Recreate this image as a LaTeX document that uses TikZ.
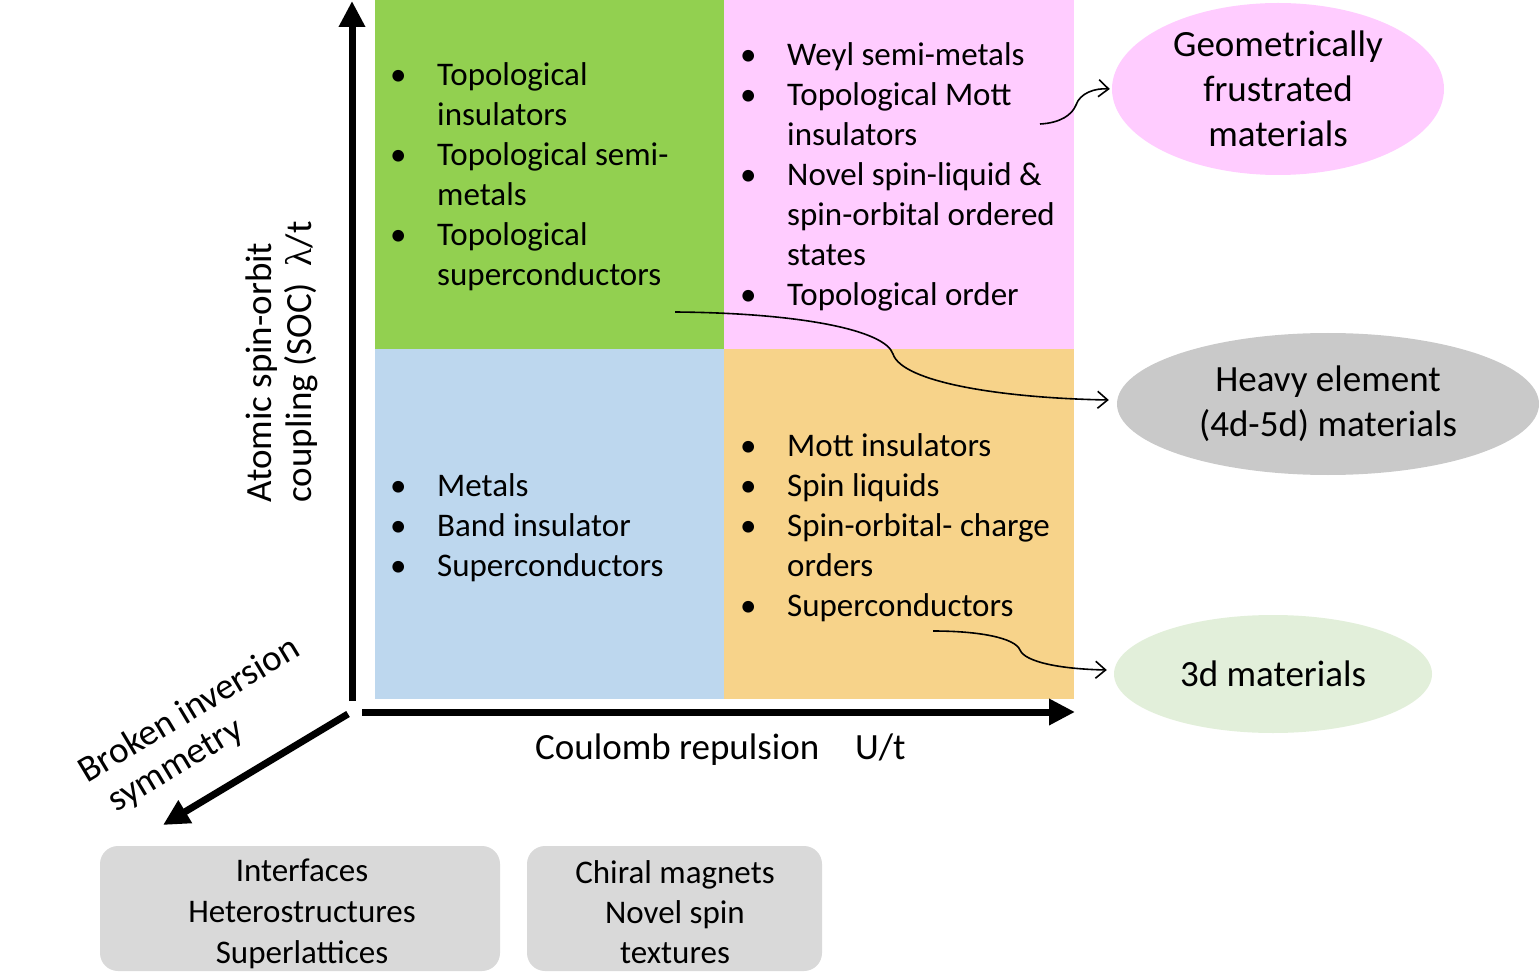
\documentclass[tikz,border=0pt]{standalone}
\usepackage{fontspec}
\setmainfont{Carlito}
\newfontfamily\lamfont{Liberation Serif}
\usetikzlibrary{arrows.meta,shapes.geometric}
\definecolor{qgreen}{RGB}{146,208,80}
\definecolor{qpink}{RGB}{255,204,255}
\definecolor{qblue}{RGB}{189,215,238}
\definecolor{qorange}{RGB}{247,211,138}
\definecolor{ellgray}{RGB}{201,201,201}
\definecolor{ellgreen}{RGB}{226,239,218}
\definecolor{boxgray}{RGB}{217,217,217}
\begin{document}
\begin{tikzpicture}[x=1pt,y=-1pt,
  listnode/.style={anchor=base west, inner sep=0, font=\fontsize{33}{40}\selectfont},
  ell/.style={ellipse, inner sep=0, align=center, font=\fontsize{37}{45}\selectfont},
  gbox/.style={fill=boxgray, rounded corners=18pt, inner sep=0},
  boxtext/.style={inner sep=0, align=center, font=\fontsize{33}{41}\selectfont},
  axis/.style={line width=7pt, -{Triangle[length=26pt,width=25pt]}},
  conn/.style={line width=1.6pt, -{Straight Barb[length=10pt,width=17pt]}},
  lab/.style={inner sep=0, font=\fontsize{37}{40}\selectfont}]
\useasboundingbox (0,0) rectangle (1539,973);
% quadrants
\fill[qgreen] (375,0) rectangle (724,349);
\fill[qpink] (724,0) rectangle (1074,349);
\fill[qblue] (375,349) rectangle (724,699);
\fill[qorange] (724,349) rectangle (1074,699);
% lists
\node[listnode] (gl) at (390,86) {\begin{tabular}[t]{@{}p{47pt}@{}l@{}}•&Topological\\&insulators\\•&Topological semi-\\&metals\\•&Topological\\&superconductors\end{tabular}};
\node[listnode] (pl) at (740,66) {\begin{tabular}[t]{@{}p{47pt}@{}l@{}}•&Weyl semi-metals\\•&Topological Mott\\&insulators\\•&Novel spin-liquid \&\\&spin-orbital ordered\\&states\\•&Topological order\end{tabular}};
\node[listnode] (bl) at (390,496) {\begin{tabular}[t]{@{}p{47pt}@{}l@{}}•&Metals\\•&Band insulator\\•&Superconductors\end{tabular}};
\node[listnode] (ol) at (740,456) {\begin{tabular}[t]{@{}p{47pt}@{}l@{}}•&Mott insulators\\•&Spin liquids\\•&Spin-orbital- charge\\&orders\\•&Superconductors\end{tabular}};
% axes
\coordinate (ytop) at (352,1);
\coordinate (ybot) at (352,701);
\coordinate (xl) at (362,712);
\coordinate (xr) at (1075,712);
\coordinate (zs) at (348,714);
\coordinate (ze) at (163,825);
\draw[axis] (ybot) -- (ytop);
\draw[axis] (xl) -- (xr);
\draw[axis] (zs) -- (ze);
% axis labels
\node[lab, rotate=90, align=left] (ylab) at (282,362) {Atomic spin-orbit\\coupling (SOC)\ \ {\lamfont λ}/t};
\node[lab, anchor=west] (xlab) at (535,750) {Coulomb repulsion\hspace{36pt}U/t};
\node[lab, rotate=31, align=left] (zlab) at (200,728) {Broken inversion\\\hspace{10pt}symmetry};
% ellipses
\node[ell, fill=qpink, minimum width=332pt, minimum height=172pt] (geo) at (1278,89) {Geometrically\\frustrated\\materials};
\node[ell, fill=ellgray, minimum width=422pt, minimum height=142pt] (heavy) at (1328,404) {Heavy element\\(4d-5d) materials};
\node[ell, fill=ellgreen, minimum width=318pt, minimum height=118pt] (three) at (1273,674) {3d materials};
% bottom boxes
\node[gbox, minimum width=400pt, minimum height=125pt] (b1) at (300,908.5) {};
\node[boxtext] (b1t) at (302,914) {Interfaces\\Heterostructures\\Superlattices};
\node[gbox, minimum width=295pt, minimum height=125pt] (b2) at (674.5,908.5) {};
\node[boxtext, font=\fontsize{33}{40}\selectfont] (b2t) at (675,912) {Chiral magnets\\Novel spin\\textures};
% connectors
\coordinate (c1) at (1040,124);
\coordinate (c2) at (675,312);
\coordinate (c3) at (933,631);
\draw[conn] (c1) .. controls (1060,123) and (1072,115) .. (1076,105) .. controls (1080,93) and (1095,88) .. ([xshift=-2pt]geo.west);
\draw[conn] (c2) .. controls (800,313) and (885,330) .. (893,354) .. controls (902,382) and (1000,398) .. ([xshift=-8pt,yshift=4pt]heavy.west);
\draw[conn] (c3) .. controls (980,631) and (1015,638) .. (1020,650) .. controls (1025,662) and (1060,669) .. ([xshift=-7pt,yshift=4pt]three.west);
\end{tikzpicture}
\end{document}
